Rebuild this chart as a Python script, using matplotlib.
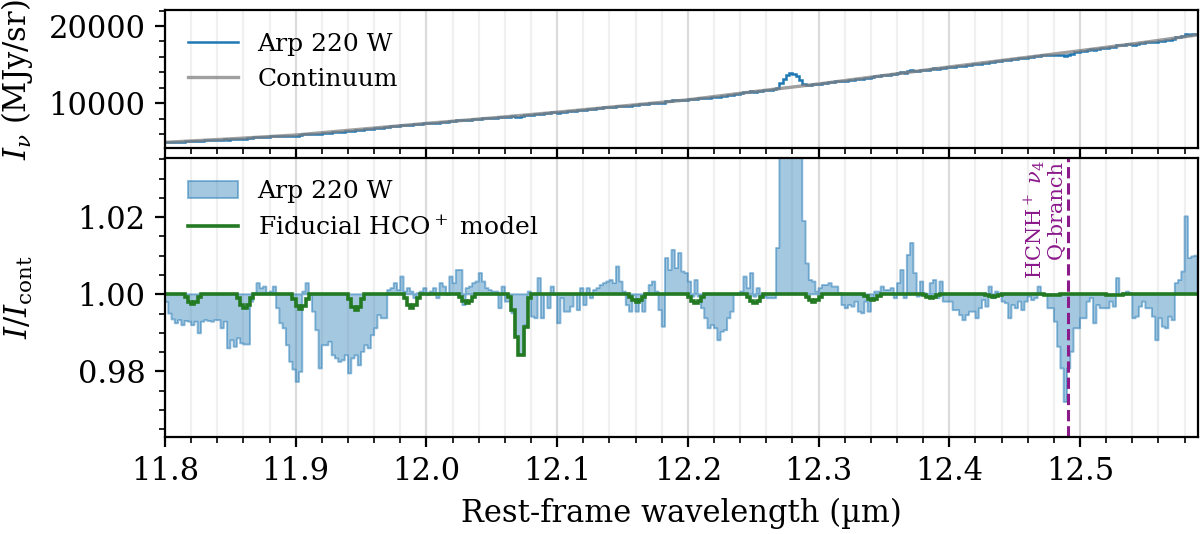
import numpy as np
import matplotlib
matplotlib.use("Agg")
import matplotlib.pyplot as plt
from matplotlib.ticker import MultipleLocator

plt.rcParams['font.family'] = ['DejaVu Serif']
plt.rcParams['mathtext.fontset'] = 'dejavuserif'

# ---------------- data ----------------
wave_start = 11.8      # µm, first bin edge
bin_width = 0.0025     # µm

# continuum-normalised spectrum (Arp 220 W), one value per bin
ratio = [
    0.9980, 0.9950, 0.9935, 0.9925, 0.9933, 0.9920, 0.9931, 0.9929, 0.9920, 0.9929,
    0.9899, 0.9929, 0.9933, 0.9931, 0.9929, 0.9933, 0.9933, 0.9912, 0.9929, 0.9860,
    0.9881, 0.9864, 0.9886, 0.9873, 0.9870, 0.9870, 0.9981, 1.0003, 1.0029, 1.0016,
    1.0020, 1.0003, 1.0007, 1.0020, 0.9964, 0.9925, 0.9912, 0.9868, 0.9825, 0.9805,
    0.9773, 0.9799, 1.0007, 1.0029, 0.9998, 0.9955, 0.9907, 0.9808, 0.9868, 0.9868,
    0.9877, 0.9842, 0.9834, 0.9825, 0.9829, 0.9842, 0.9795, 0.9834, 0.9842, 0.9816,
    0.9851, 0.9868, 0.9860, 0.9894, 0.9912, 0.9946, 0.9938, 0.9938, 1.0011, 1.0016,
    1.0029, 1.0011, 1.0046, 1.0007, 1.0016, 1.0007, 0.9990, 1.0003, 1.0007, 1.0016,
    0.9998, 1.0007, 1.0016, 0.9990, 1.0029, 1.0020, 0.9998, 1.0046, 1.0029, 1.0063,
    1.0063, 0.9972, 1.0016, 1.0020, 1.0029, 1.0033, 1.0055, 1.0033, 1.0016, 1.0011,
    1.0007, 1.0007, 0.9964, 1.0020, 0.9981, 0.9981, 0.9951, 0.9890, 0.9842, 0.9842,
    0.9920, 1.0007, 0.9942, 0.9938, 1.0042, 0.9938, 0.9998, 0.9964, 1.0020, 0.9998,
    0.9925, 0.9990, 0.9955, 0.9955, 0.9968, 0.9998, 0.9959, 1.0016, 0.9972, 1.0016,
    0.9990, 1.0011, 1.0016, 1.0024, 1.0029, 1.0033, 1.0037, 1.0029, 1.0072, 1.0033,
    1.0007, 0.9972, 0.9955, 0.9998, 0.9955, 0.9981, 0.9955, 1.0003, 1.0024, 1.0033,
    1.0007, 0.9959, 0.9916, 1.0094, 1.0063, 1.0115, 1.0068, 1.0107, 1.0059, 1.0055,
    1.0033, 0.9994, 1.0037, 0.9994, 0.9964, 0.9938, 0.9912, 0.9920, 0.9912, 0.9881,
    0.9903, 0.9907, 0.9938, 0.9955, 0.9998, 0.9998, 1.0007, 1.0046, 1.0016, 1.0055,
    0.9994, 1.0016, 0.9990, 0.9994, 0.9990, 0.9990, 0.9990, 1.0120, 1.0550, 1.0950,
    1.1350, 1.1480, 1.1400, 1.1100, 1.0650, 1.0190, 1.0080, 1.0037, 1.0033, 1.0007,
    1.0016, 1.0024, 1.0024, 1.0029, 1.0020, 1.0020, 1.0003, 0.9972, 0.9964, 0.9972,
    0.9968, 0.9981, 0.9955, 0.9951, 0.9981, 0.9955, 0.9990, 1.0007, 1.0007, 1.0020,
    1.0011, 1.0011, 1.0016, 0.9990, 1.0029, 1.0063, 0.9990, 1.0102, 1.0133, 1.0055,
    0.9994, 1.0033, 1.0003, 0.9994, 1.0029, 1.0037, 0.9990, 1.0033, 0.9981, 0.9981,
    0.9981, 0.9959, 0.9959, 0.9946, 0.9933, 0.9946, 0.9955, 0.9955, 0.9938, 0.9964,
    0.9985, 0.9968, 1.0020, 0.9990, 1.0007, 1.0003, 0.9981, 0.9977, 0.9938, 0.9972,
    0.9964, 0.9981, 0.9959, 0.9981, 0.9994, 0.9985, 0.9990, 1.0020, 0.9998, 0.9998,
    0.9964, 0.9964, 0.9929, 0.9864, 0.9808, 0.9721, 0.9808, 0.9851, 0.9912, 0.9912,
    0.9938, 0.9938, 0.9981, 0.9990, 0.9925, 0.9972, 0.9964, 0.9964, 0.9964, 0.9981,
    0.9968, 1.0042, 0.9998, 1.0003, 1.0007, 1.0003, 0.9938, 0.9942, 0.9968, 0.9981,
    0.9964, 0.9964, 0.9942, 0.9881, 0.9938, 0.9916, 0.9912, 0.9942, 0.9933, 1.0029,
    1.0037, 1.0059, 1.0202, 1.0094, 1.0098, 1.0100,
]

# continuum (MJy/sr)
cont_wave = [11.80, 11.85, 11.90, 11.95, 12.00, 12.05, 12.10, 12.15, 12.20,
             12.25, 12.30, 12.35, 12.40, 12.45, 12.50, 12.55, 12.59]
cont_flux = [4950, 5400, 5900, 6650, 7400, 8100, 8850, 9650, 10450,
             11500, 12500, 13600, 14700, 15750, 16800, 17900, 18850]

# fiducial HCO+ model: bins that depart from 1 and their values
model_bins = [6, 7, 8, 9, 10,
              22, 23, 24, 25, 26,
              39, 40, 41, 42, 43,
              56, 57, 58, 59, 60,
              73, 74, 75, 76, 77,
              90, 91, 92, 93, 94,
              105, 106, 107, 108, 109, 110, 111,
              142, 143, 144, 145, 146,
              160, 161, 162, 163, 164,
              178, 179, 180, 181, 182,
              196, 197, 198, 199, 200,
              214, 215, 216, 217, 218,
              232, 233, 234, 235, 236,
              251, 252, 253, 254, 255,
              269, 270, 271, 272, 273,
              288, 289, 290, 291, 292]
model_vals = [0.9992, 0.9979, 0.9974, 0.9979, 0.9992,
              0.9990, 0.9972, 0.9965, 0.9972, 0.9990,
              0.9989, 0.9970, 0.9962, 0.9970, 0.9989,
              0.9988, 0.9967, 0.9959, 0.9967, 0.9988,
              0.9990, 0.9972, 0.9965, 0.9972, 0.9990,
              0.9993, 0.9982, 0.9977, 0.9982, 0.9993,
              0.9994, 0.9960, 0.9890, 0.9842, 0.9842, 0.9916, 0.9990,
              0.9994, 0.9985, 0.9981, 0.9985, 0.9994,
              0.9993, 0.9982, 0.9977, 0.9982, 0.9993,
              0.9993, 0.9982, 0.9977, 0.9982, 0.9993,
              0.9994, 0.9985, 0.9981, 0.9985, 0.9994,
              0.9996, 0.9988, 0.9985, 0.9988, 0.9996,
              0.9997, 0.9992, 0.9990, 0.9992, 0.9997,
              0.9998, 0.9995, 0.9994, 0.9995, 0.9998,
              0.9999, 0.9998, 0.9997, 0.9998, 0.9999,
              0.9999, 0.9998, 0.9998, 0.9998, 0.9999]

hcnh_wave = 12.4904
x_range = (11.8, 12.59)
top_ylim = (4180, 22040)
bot_ylim = (0.9631, 1.0354)

# ---------------- derived ----------------
ratio = np.array(ratio)
n = len(ratio)
edges = wave_start + bin_width * np.arange(n + 1)
centers = 0.5 * (edges[:-1] + edges[1:])
flux = np.interp(centers, cont_wave, cont_flux) * ratio
model = np.ones(n)
model[model_bins] = model_vals

# ---------------- figure ----------------
W, H = 1200, 534
fig = plt.figure(figsize=(6.0, 2.67), dpi=200)
left, right = 165, 1197.7
ax1 = fig.add_axes([left / W, 1 - 148.3 / H, (right - left) / W, (148.3 - 10.2) / H])
ax2 = fig.add_axes([left / W, 1 - 436.7 / H, (right - left) / W, (436.7 - 157.7) / H],
                   sharex=ax1)

blue = (0.122, 0.467, 0.706)
green = '#237a23'
purple = '#8b1a8b'

for ax in (ax1, ax2):
    ax.xaxis.set_major_locator(MultipleLocator(0.1))
    ax.xaxis.set_minor_locator(MultipleLocator(0.02))
    ax.grid(axis='x', which='major', color='0.86', lw=0.8)
    ax.grid(axis='x', which='minor', color='0.94', lw=0.8)
    ax.set_axisbelow(True)
    ax.tick_params(labelsize=11)

# top panel
ax1.stairs(flux, edges, baseline=None, color=blue, lw=0.9, label='Arp 220 W')
ax1.plot(cont_wave, cont_flux, color='gray', alpha=0.75, lw=1.2, label='Continuum')
ax1.set_ylim(*top_ylim)
ax1.yaxis.set_major_locator(MultipleLocator(10000))
ax1.yaxis.set_minor_locator(MultipleLocator(2000))
ax1.tick_params(labelbottom=False)
ax1.set_ylabel(r'$I_\nu$ (MJy/sr)', fontsize=11)
ax1.legend(loc='upper left', frameon=False, fontsize=9)

# bottom panel
ax2.fill_between(edges, 1.0, np.append(ratio, ratio[-1]), step='post',
                 facecolor=blue + (0.4,), edgecolor=blue + (0.5,), lw=0.7,
                 label='Arp 220 W')
ax2.stairs(model, edges, baseline=None, color=green, lw=1.3,
           label='Fiducial HCO$^+$ model')
ax2.axvline(hcnh_wave, color=purple, ls='--', lw=1.1)
ax2.text(hcnh_wave - 0.0012, 1.0348, 'HCNH$^+$ $\\nu_4$\nQ-branch', rotation=90,
         ha='right', va='top', color=purple, fontsize=7.5, multialignment='right',
         linespacing=1.0)
ax2.set_ylim(*bot_ylim)
ax2.yaxis.set_major_locator(MultipleLocator(0.02))
ax2.yaxis.set_minor_locator(MultipleLocator(0.005))
ax2.set_xlim(*x_range)
ax2.set_ylabel(r'$I/I_{\rm cont}$', fontsize=11)
ax2.set_xlabel('Rest-frame wavelength (µm)', fontsize=11)
ax2.legend(loc='upper left', frameon=False, fontsize=9)

ax1.yaxis.set_label_coords(-0.126, 0.5)
ax2.yaxis.set_label_coords(-0.126, 0.5)

fig.savefig('out.png', dpi=200)
